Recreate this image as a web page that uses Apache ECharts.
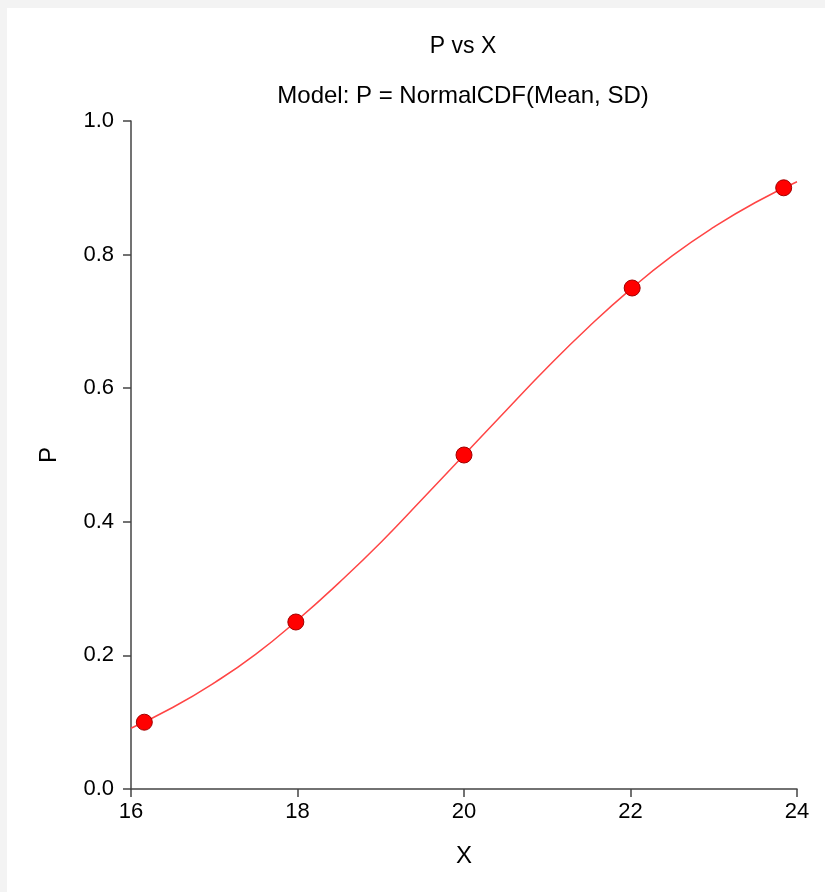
<!DOCTYPE html>
<html>
<head>
<meta charset="utf-8">
<script src="https://cdn.jsdelivr.net/npm/echarts@6/dist/echarts.min.js"></script>
<style>
  html, body { margin: 0; padding: 0; background: #f3f3f3; width: 825px; height: 892px; overflow: hidden; }
  #chart { position: absolute; left: 7px; top: 8px; width: 818px; height: 884px; background: #ffffff; }
</style>
</head>
<body>
<div id="chart"></div>
<script>
// Observed data points
const pointX = [16.16, 17.98, 20.0, 22.02, 23.84];
const pointP = [0.10, 0.25, 0.50, 0.75, 0.90];

// Fitted model curve
const curveX = [16.0, 16.5, 17.0, 17.5, 18.0, 18.5, 19.0, 19.5, 20.0, 20.5, 21.0, 21.5, 22.0, 22.5, 23.0, 23.5, 24.0];
const curveP = [0.091, 0.122, 0.159, 0.202, 0.253, 0.309, 0.369, 0.434, 0.500, 0.566, 0.631, 0.692, 0.748, 0.798, 0.841, 0.878, 0.909];

const xTicks = [16, 18, 20, 22, 24];
const yTicks = [0.0, 0.2, 0.4, 0.6, 0.8, 1.0];

const titleText = 'P vs X';
const subtitleText = 'Model: P = NormalCDF(Mean, SD)';
const xName = 'X';
const yName = 'P';

const FONT = '"Liberation Sans", Arial, sans-serif';

const chart = echarts.init(document.getElementById('chart'), null, { renderer: 'canvas' });

const option = {
  animation: false,
  backgroundColor: '#ffffff',
  textStyle: { fontFamily: FONT },
  graphic: [
    { type: 'text', x: 456, y: 39, style: { text: titleText, fill: '#000', font: '23px ' + FONT, textAlign: 'center', textVerticalAlign: 'middle' } },
    { type: 'text', x: 456, y: 88, style: { text: subtitleText, fill: '#000', font: '24px ' + FONT, textAlign: 'center', textVerticalAlign: 'middle' } }
  ],
  grid: { left: 124, right: 28, top: 113, bottom: 103, containLabel: false },
  xAxis: {
    type: 'value',
    min: xTicks[0], max: xTicks[xTicks.length - 1], interval: 2,
    name: xName, nameLocation: 'middle', nameGap: 55,
    nameTextStyle: { fontSize: 24, color: '#000', fontFamily: FONT },
    axisLine: { show: true, onZero: false, lineStyle: { color: '#444', width: 1.5 } },
    axisTick: { show: true, inside: false, length: 8, lineStyle: { color: '#444', width: 1.5 } },
    axisLabel: { fontSize: 22, color: '#000', margin: 12, fontFamily: FONT },
    splitLine: { show: false }
  },
  yAxis: {
    type: 'value',
    min: yTicks[0], max: yTicks[yTicks.length - 1], interval: 0.2,
    name: yName, nameLocation: 'middle', nameGap: 70,
    nameTextStyle: { fontSize: 24, color: '#000', fontFamily: FONT },
    axisLine: { show: true, onZero: false, lineStyle: { color: '#444', width: 1.5 } },
    axisTick: { show: true, inside: false, length: 8, lineStyle: { color: '#444', width: 1.5 } },
    axisLabel: { fontSize: 22, color: '#000', margin: 17, fontFamily: FONT, formatter: v => v.toFixed(1) },
    splitLine: { show: false }
  },
  series: [
    {
      type: 'line',
      data: curveX.map((x, i) => [x, curveP[i]]),
      smooth: true,
      showSymbol: false,
      lineStyle: { color: '#ff4545', width: 1.5 },
      z: 2
    },
    {
      type: 'scatter',
      data: pointX.map((x, i) => [x, pointP[i]]),
      symbol: 'circle',
      symbolSize: 16,
      itemStyle: { color: '#ff0000', opacity: 1, borderColor: '#a00000', borderWidth: 1 },
      z: 3
    }
  ]
};

chart.setOption(option);
</script>
</body>
</html>
